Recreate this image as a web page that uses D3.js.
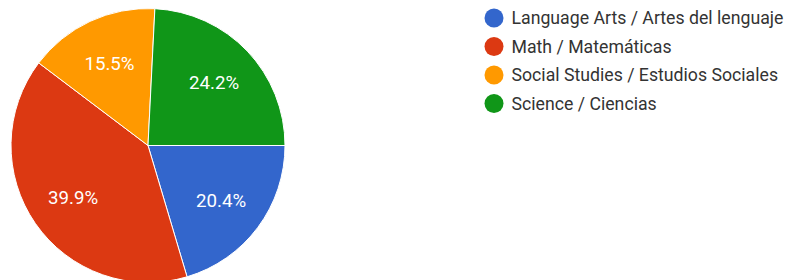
<!doctype html>
<html>
  <head>
    <meta charset="utf-8">
    <title>Pie chart</title>
    <script src="https://cdnjs.cloudflare.com/ajax/libs/d3/7.8.5/d3.min.js"></script>
    <style>
      body { margin: 0; background: #fff; }
    </style>
  </head>
  <body>
    <div id="chart"></div>
    <script>
      // data
      const categories = [
        'Language Arts / Artes del lenguaje',
        'Math / Matemáticas',
        'Social Studies / Estudios Sociales',
        'Science / Ciencias'
      ];
      const values = [20.4, 39.9, 15.5, 24.2];
      const colors = ['#3366cc', '#dc3912', '#ff9900', '#109618'];

      const width = 793, height = 280;
      const cx = 148, cy = 145.5, r = 137;

      const svg = d3.select('#chart')
        .append('svg')
        .attr('width', width)
        .attr('height', height)
        .style('font-family', 'Roboto, Arial, sans-serif');

      // slices start at 3 o'clock and go clockwise
      const pie = d3.pie()
        .sort(null)
        .startAngle(Math.PI / 2)
        .endAngle(Math.PI / 2 + 2 * Math.PI);

      const arcs = pie(values);
      const arc = d3.arc().innerRadius(0).outerRadius(r);
      const labelArc = d3.arc().innerRadius(r * 0.665).outerRadius(r * 0.665);

      const g = svg.append('g').attr('transform', `translate(${cx},${cy})`);

      g.selectAll('path')
        .data(arcs)
        .join('path')
        .attr('d', arc)
        .attr('fill', (d, i) => colors[i])
        .attr('stroke', '#fff')
        .attr('stroke-width', 1);

      g.selectAll('text')
        .data(arcs)
        .join('text')
        .attr('transform', d => `translate(${labelArc.centroid(d)})`)
        .attr('text-anchor', 'middle')
        .attr('dy', '0.36em')
        .attr('fill', '#fff')
        .style('font-size', '18.7px')
        .text(d => d.data.toFixed(1) + '%');

      // legend
      const yScale = d3.scalePoint()
        .domain(categories)
        .range([18, 103.5]);

      const legend = svg.append('g')
        .selectAll('g')
        .data(categories)
        .join('g')
        .attr('transform', d => `translate(494,${yScale(d)})`);

      legend.append('circle')
        .attr('r', 9.5)
        .attr('fill', (d, i) => colors[i]);

      legend.append('text')
        .attr('x', 17.5)
        .attr('dy', '0.36em')
        .attr('fill', '#333')
        .style('font-size', '17.7px')
        .text(d => d);
    </script>
  </body>
</html>
